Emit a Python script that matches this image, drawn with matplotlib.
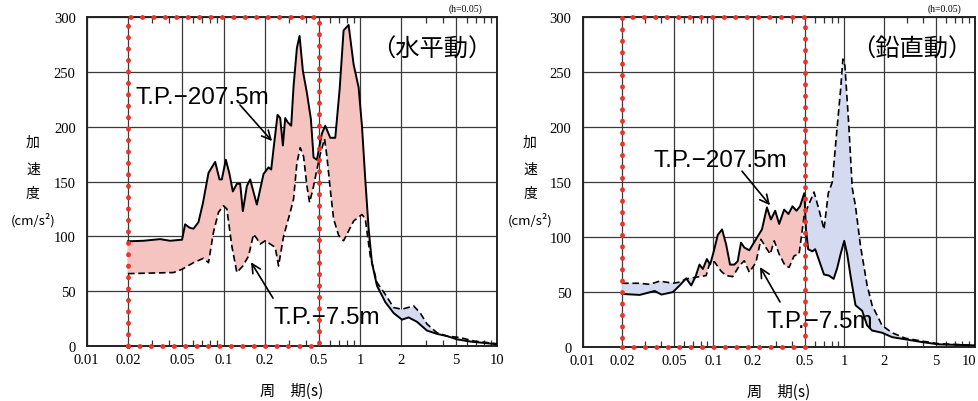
import numpy as np
import matplotlib
matplotlib.use("Agg")
import matplotlib.pyplot as plt
import matplotlib.transforms as mtransforms
from matplotlib.ticker import FixedLocator, NullFormatter

# ---------------- data ----------------
# Horizontal motion (水平動)
h_deep_T = [0.0200, 0.0260, 0.0344, 0.0407, 0.0498, 0.0524, 0.0564, 0.0603, 0.0656, 0.0706,
            0.0777, 0.0869, 0.0935, 0.0972, 0.1040, 0.1106, 0.1170, 0.1252, 0.1324, 0.1385,
            0.1482, 0.1567, 0.1753, 0.1962, 0.2134, 0.2232, 0.2322, 0.2484, 0.2598, 0.2717,
            0.2826, 0.2955, 0.3126, 0.3252, 0.3440, 0.3598, 0.3806, 0.4072, 0.4355, 0.4555,
            0.4818, 0.5243, 0.5545, 0.6033, 0.6563, 0.7062, 0.7551, 0.8215, 0.8939, 0.9723,
            1.0285, 1.0880, 1.151, 1.217, 1.324, 1.524, 1.754, 2.018, 2.258, 2.598,
            3.074, 3.639, 4.307, 5.098, 6.382, 10.0]
h_deep_v = [95.5, 96, 97.5, 96, 97, 111, 108, 107, 113, 130,
            158, 168, 152, 152, 170, 157, 141, 148, 148, 123,
            146, 152, 129, 157, 163, 161, 180, 211, 208, 183,
            208, 204, 201, 237, 272, 283, 251, 231, 207, 172,
            170, 194, 201, 190, 190, 234, 288, 293, 257, 236,
            201, 152, 107, 76, 55, 40, 30, 24, 26, 22,
            14, 11, 9, 6, 4, 1.5]
h_shallow_T = [0.0200, 0.0431, 0.0498, 0.0603, 0.0714, 0.0777, 0.0845, 0.0919, 0.1000, 0.1058,
               0.1151, 0.1252, 0.1385, 0.1524, 0.1658, 0.1753, 0.1855, 0.2018, 0.2195, 0.2388,
               0.2526, 0.2748, 0.3074, 0.3252, 0.3440, 0.3639, 0.3849, 0.4072, 0.4259, 0.4505,
               0.4818, 0.5096, 0.5483, 0.5702, 0.6033, 0.6381, 0.6943, 0.7551, 0.7990, 0.8939,
               1.0285, 1.0880, 1.1835, 1.324, 1.524, 1.754, 2.018, 2.456, 2.748, 3.074,
               3.639, 4.307, 5.393, 6.750, 10.0]
h_shallow_v = [66, 67, 70, 76, 80, 76, 104, 122, 128, 125,
               91, 67, 73, 82, 102, 98, 93, 96, 93, 90,
               73, 100, 122, 134, 167, 181, 173, 146, 131, 143,
               161, 175, 189, 173, 143, 116, 101, 96, 102, 114,
               120, 116, 82, 58, 47, 35, 33.5, 36.5, 30, 20,
               12, 9, 7.6, 4.5, 2]

# Vertical motion (鉛直動)
v_deep_T = [0.0200, 0.0273, 0.0355, 0.0400, 0.0490, 0.0551, 0.0619, 0.0676, 0.0729, 0.0782,
            0.0830, 0.0890, 0.0943, 0.1000, 0.1079, 0.1164, 0.1249, 0.1339, 0.1445, 0.1532,
            0.1624, 0.1722, 0.1880, 0.2113, 0.2348, 0.2563, 0.2749, 0.2966, 0.3180, 0.3472,
            0.3747, 0.4018, 0.4310, 0.4590, 0.4950, 0.5100, 0.5300, 0.5700, 0.6000, 0.6500,
            0.7001, 0.7643, 0.8300, 0.8845, 0.9378, 1.0000, 1.054, 1.117, 1.220, 1.371,
            1.497, 1.634, 1.947, 2.320, 2.931, 3.925, 5.258, 10.0]
v_deep_v = [48.3, 47.4, 51, 47.7, 50, 56, 62.5, 56, 64, 75,
            71, 80, 75, 86, 102, 107, 93.5, 75, 75, 78,
            95, 90.5, 88, 98, 107, 127, 116, 124, 112, 125,
            121, 128, 124, 128, 140, 107, 89, 87, 89, 77,
            66, 65, 62, 72, 84.5, 96.6, 84.5, 65, 38, 33,
            19.6, 15, 13, 9, 7, 4.5, 2.4, 1.5]
v_shallow_T = [0.0200, 0.0273, 0.0326, 0.0388, 0.0490, 0.0551, 0.0619, 0.0696, 0.0782, 0.0879,
               0.0943, 0.1018, 0.1144, 0.1249, 0.1403, 0.1578, 0.1722, 0.1880, 0.2113, 0.2306,
               0.2518, 0.2716, 0.2914, 0.3180, 0.3533, 0.3790, 0.4139, 0.4516, 0.4931, 0.5200,
               0.5875, 0.6413, 0.7001, 0.7553, 0.8103, 0.8845, 0.9378, 0.9766, 1.012, 1.085,
               1.151, 1.220, 1.332, 1.497, 1.634, 1.947, 2.320, 2.931, 3.925, 5.258, 10.0]
v_shallow_v = [58, 58, 57, 60, 58, 59, 62, 63, 64, 65,
               77.5, 77.5, 69, 65, 64, 74, 78.5, 68, 77, 98,
               90.5, 84.5, 96.6, 84.5, 74, 72.5, 83, 84.5, 119, 126,
               141, 125, 107, 140, 150, 201, 234, 262, 256, 201,
               145, 128, 92, 56, 38, 19.6, 13, 8, 5.4, 3, 1.5]

x_ticks = [0.01, 0.02, 0.05, 0.1, 0.2, 0.5, 1, 2, 5, 10]
x_ticklabels = ["0.01", "0.02", "0.05", "0.1", "0.2", "0.5", "1", "2", "5", "10"]
y_ticks = [0, 50, 100, 150, 200, 250, 300]
box_T = [0.02, 0.5]
box_v = [0, 300]

PINK = "#f5c4c1"
BLUE = "#d4dbf0"
RED = "#e8352b"
CJK = ["Noto Sans CJK JP", "DejaVu Sans"]
SERIF = "Liberation Serif"

fig = plt.figure(figsize=(9.79, 4.02), dpi=100)
fig.patch.set_facecolor("white")

ax1 = fig.add_axes([0.0886, 0.137, 0.4191, 0.8175])
ax2 = fig.add_axes([0.5952, 0.1343, 0.4007, 0.8202])


def draw_panel(ax, dT, dv, sT, sv, title, shift_last):
    ax.set_xscale("log")
    ax.set_xlim(0.01, 10)
    ax.set_ylim(0, 300)
    # fills
    grid = np.unique(np.concatenate([dT, sT]))
    lg = np.log10(grid)
    d = np.interp(lg, np.log10(dT), dv)
    s = np.interp(lg, np.log10(sT), sv)
    ax.fill_between(grid, s, d, where=d >= s, color=PINK, lw=0, interpolate=True, zorder=1)
    ax.fill_between(grid, s, d, where=d <= s, color=BLUE, lw=0, interpolate=True, zorder=1)
    ax.plot(dT, dv, color="black", lw=1.4, zorder=3)
    ax.plot(sT, sv, color="black", lw=1.2, ls=(0, (4, 2.2)), zorder=3)
    # grid
    ax.xaxis.set_major_locator(FixedLocator(x_ticks))
    ax.set_xticklabels(x_ticklabels)
    minors = [m * 10.0 ** e for e in (-2, -1, 0) for m in (3, 4, 6, 7, 8, 9)]
    ax.xaxis.set_minor_locator(FixedLocator(minors))
    ax.xaxis.set_minor_formatter(NullFormatter())
    ax.set_yticks(y_ticks)
    ax.grid(True, which="major", color="#3a3a3a", lw=0.9, zorder=0)
    ax.set_axisbelow(True)
    ax.tick_params(axis="x", which="major", length=0, pad=5, labelsize=10.5)
    ax.tick_params(axis="x", which="minor", direction="in", length=4.5, width=0.9,
                   top=True, bottom=True, color="#333333")
    ax.tick_params(axis="y", which="major", length=0, pad=8, labelsize=10.5)
    for lab in ax.get_xticklabels() + ax.get_yticklabels():
        lab.set_family(SERIF)
    if shift_last:
        last = ax.get_xticklabels()[-1]
        last.set_transform(last.get_transform() +
                           mtransforms.ScaledTranslation(-6 / 100, 0, fig.dpi_scale_trans))
    for sp in ax.spines.values():
        sp.set_linewidth(1.4)
        sp.set_color("#222222")
    # red dotted box
    bx = [box_T[0], box_T[1], box_T[1], box_T[0], box_T[0]]
    by = [box_v[0], box_v[0], box_v[1], box_v[1], box_v[0]]
    ax.plot(bx, by, color=RED, lw=3.5, ls=(0, (0.05, 2.3)), dash_capstyle="round",
            solid_capstyle="round", clip_on=False, zorder=5)
    ax.text(0.84, 0.905, title, transform=ax.transAxes, ha="center", va="center",
            fontsize=17.5, family=CJK, zorder=6)
    ax.text(0.965, 1.012, "(h=0.05)", transform=ax.transAxes, ha="right", va="bottom",
            fontsize=7, family=SERIF)
    ax.text(0.5, -0.135, "周　期(s)", transform=ax.transAxes, ha="center", va="center",
            fontsize=11, family=CJK)


draw_panel(ax1, h_deep_T, h_deep_v, h_shallow_T, h_shallow_v, "（水平動）", False)
draw_panel(ax2, v_deep_T, v_deep_v, v_shallow_T, v_shallow_v, "（鉛直動）", True)

arrow = dict(arrowstyle="->", lw=1.2, color="black", mutation_scale=16, shrinkA=0, shrinkB=0)
lab_font = dict(fontsize=17.5, family=["Liberation Sans", "DejaVu Sans"], zorder=7)

ax1.text(0.0226, 222, "T.P.−207.5m", ha="left", va="baseline", **lab_font)
ax1.annotate("", xy=(0.2264, 187), xytext=(0.132, 220), arrowprops=arrow, zorder=7)
ax1.text(0.2302, 20.7, "T.P.−7.5m", ha="left", va="baseline", **lab_font)
ax1.annotate("", xy=(0.159, 76.4), xytext=(0.2302, 43.6), arrowprops=arrow, zorder=7)

ax2.text(0.0345, 164.7, "T.P.−207.5m", ha="left", va="baseline", **lab_font)
ax2.annotate("", xy=(0.2706, 129), xytext=(0.1653, 160), arrowprops=arrow, zorder=7)
ax2.text(0.2567, 18.2, "T.P.−7.5m", ha="left", va="baseline", **lab_font)
ax2.annotate("", xy=(0.2269, 72.8), xytext=(0.3228, 41), arrowprops=arrow, zorder=7)

# y-axis labels (vertical Japanese)
for xp in (33, 530):
    for ch, yp in (("加", 143), ("速", 170), ("度", 194)):
        fig.text(xp / 979, 1 - yp / 402, ch, ha="center", va="center", fontsize=10, family=CJK)
    fig.text(xp / 979, 1 - 220 / 402, "(cm/s²)", ha="center", va="center", fontsize=9.5,
             family=CJK)

fig.savefig("out.png", dpi=100, facecolor="white")
